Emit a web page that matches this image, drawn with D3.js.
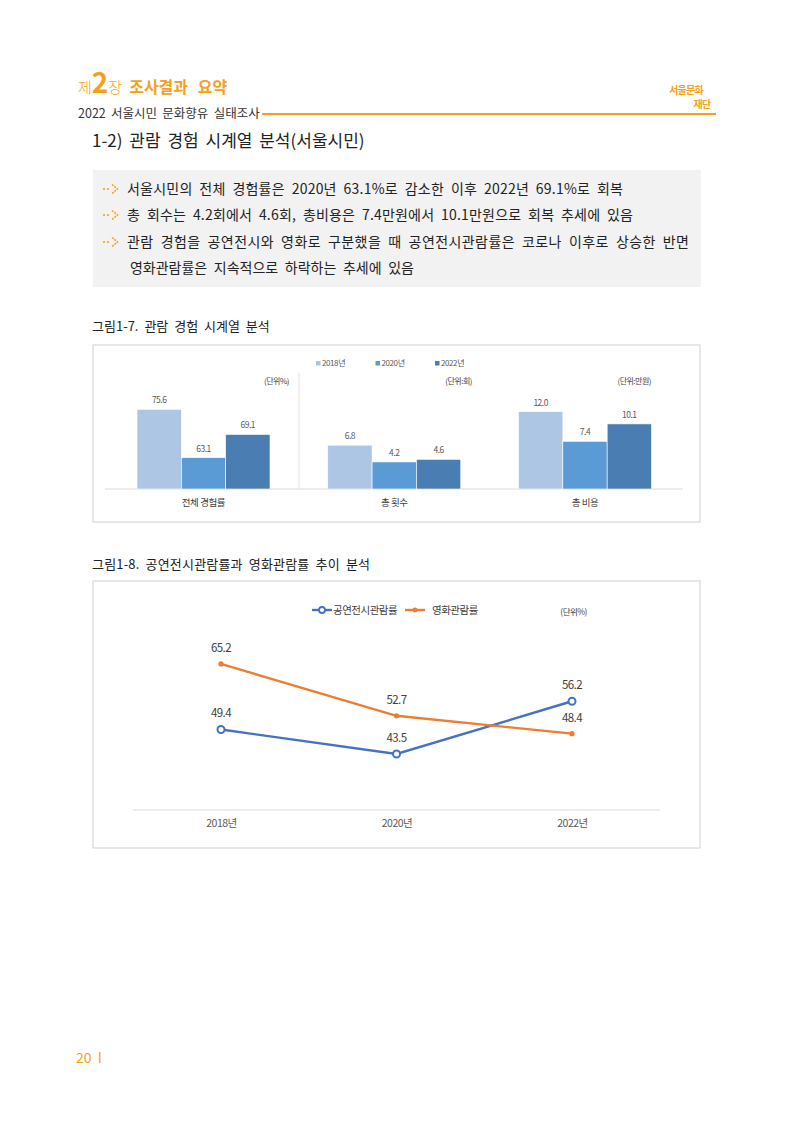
<!DOCTYPE html>
<html>
<head>
<meta charset="utf-8">
<script src="https://cdn.jsdelivr.net/npm/d3@7"></script>
<style>
  body { margin: 0; background: #fff; }
  svg text { font-family: "Noto Sans CJK KR", "Noto Sans", sans-serif; }
</style>
</head>
<body>
<script>
// chart data
var years = ["2018년", "2020년", "2022년"];
var barCategories = ["전체 경험률", "총 횟수", "총 비용"];
var barUnits = ["(단위%)", "(단위:회)", "(단위:만원)"];
var experienceRate = [75.6, 63.1, 69.1];
var totalCount = [6.8, 4.2, 4.6];
var totalCost = [12.0, 7.4, 10.1];
var seriesNames = ["공연전시관람률", "영화관람률"];
var performanceRate = [49.4, 43.5, 56.2];
var movieRate = [65.2, 52.7, 48.4];

var summary = [
  "서울시민의 전체 경험률은 2020년 63.1%로 감소한 이후 2022년 69.1%로 회복",
  "총 회수는 4.2회에서 4.6회, 총비용은 7.4만원에서 10.1만원으로 회복 추세에 있음",
  "관람 경험을 공연전시와 영화로 구분했을 때 공연전시관람률은 코로나 이후로 상승한 반면",
  "영화관람률은 지속적으로 하락하는 추세에 있음"
];

var orange = "#f5a01a";
var barColors = ["#adc6e4", "#5b9bd5", "#4a7db1"];
var fmt = d3.format(".1f");

var svg = d3.select("body").append("svg")
  .attr("width", 794)
  .attr("height", 1122);

// ---- page header
var head = svg.append("text").attr("x", 78).attr("y", 93).attr("fill", orange);
head.append("tspan").attr("font-size", 15).attr("font-weight", 300).text("제");
head.append("tspan").attr("font-size", 28).attr("font-weight", 700).text("2");
head.append("tspan").attr("font-size", 15).attr("font-weight", 300).text("장");
head.append("tspan").attr("font-size", 16).attr("font-weight", 700).attr("dx", 7)
  .attr("word-spacing", 6).text("조사결과 요약");

svg.append("text").attr("x", 78).attr("y", 118).attr("word-spacing", 2.5)
  .attr("font-size", 12.5).attr("fill", "#333").text("2022 서울시민 문화향유 실태조사");
svg.append("line").attr("x1", 262).attr("x2", 716).attr("y1", 114).attr("y2", 114)
  .attr("stroke", orange).attr("stroke-width", 2);

// logo (approximation)
svg.append("text").attr("x", 686).attr("y", 94).attr("font-size", 10).attr("font-weight", 700)
  .attr("fill", orange).attr("text-anchor", "middle").attr("letter-spacing", -0.8).text("서울문화");
svg.append("text").attr("x", 702).attr("y", 108).attr("font-size", 10).attr("font-weight", 700)
  .attr("fill", orange).attr("text-anchor", "middle").attr("letter-spacing", -0.8).text("재단");

svg.append("text").attr("x", 92).attr("y", 147).attr("word-spacing", 3)
  .attr("font-size", 17).attr("fill", "#222").text("1-2) 관람 경험 시계열 분석(서울시민)");

// ---- summary box
svg.append("rect").attr("x", 93).attr("y", 170).attr("width", 608).attr("height", 117)
  .attr("fill", "#f2f2f2");

var lineY = [194, 220, 247, 273];
var lineLen = [496, 506, 562, 284];
summary.forEach(function(s, i) {
  if (i < 3) {
    var g = svg.append("g").attr("transform", "translate(103," + (lineY[i] - 5) + ")");
    g.append("circle").attr("cx", 1).attr("cy", 0).attr("r", 1.1).attr("fill", orange);
    g.append("circle").attr("cx", 5).attr("cy", 0).attr("r", 1.1).attr("fill", orange);
    g.append("path").attr("d", "M9,-4.5 L14.5,0 L9,4.5").attr("fill", "none")
      .attr("stroke", orange).attr("stroke-width", 1.5).attr("stroke-dasharray", "2,1");
  }
  svg.append("text").attr("x", i == 3 ? 130 : 127).attr("y", lineY[i])
    .attr("font-size", 14).attr("fill", "#222").attr("word-spacing", 3.5)
    .attr("textLength", lineLen[i]).attr("lengthAdjust", "spacing").text(s);
});

// ---- figure 1-7
svg.append("text").attr("x", 92).attr("y", 331).attr("font-size", 13).attr("fill", "#222")
  .attr("word-spacing", 3).text("그림1-7. 관람 경험 시계열 분석");

svg.append("rect").attr("x", 93).attr("y", 345).attr("width", 607).attr("height", 177)
  .attr("fill", "none").attr("stroke", "#d0d0d0");

var base1 = 489;
var yRate = d3.scaleLinear().domain([55, 85]).range([base1, 373]);
var ySmall = d3.scaleLinear().domain([0, 18]).range([base1, 373]);
var xCat = d3.scalePoint().domain(barCategories).range([203.5, 585]);
var xYear = d3.scaleBand().domain(years).range([-66.5, 66.5]);

var groups = [
  { cat: barCategories[0], unit: barUnits[0], values: experienceRate, y: yRate },
  { cat: barCategories[1], unit: barUnits[1], values: totalCount, y: ySmall },
  { cat: barCategories[2], unit: barUnits[2], values: totalCost, y: ySmall }
];

// legend
var leg1 = svg.append("g");
years.forEach(function(yr, i) {
  var lx = 316 + i * 59.5;
  leg1.append("rect").attr("x", lx).attr("y", 361).attr("width", 4.5).attr("height", 4.5)
    .attr("fill", barColors[i]);
  leg1.append("text").attr("x", lx + 6).attr("y", 366).attr("font-size", 8)
    .attr("letter-spacing", -0.4).attr("fill", "#595959").text(yr);
});

svg.append("line").attr("x1", 299).attr("x2", 299).attr("y1", 373).attr("y2", base1)
  .attr("stroke", "#e0e0e0");
svg.append("line").attr("x1", 105).attr("x2", 683).attr("y1", base1).attr("y2", base1)
  .attr("stroke", "#d9d9d9");

var unitRight = [289, 472, 651];
groups.forEach(function(gr, gi) {
  var g = svg.append("g").attr("transform", "translate(" + xCat(gr.cat) + ",0)");
  g.selectAll("rect").data(gr.values).enter().append("rect")
    .attr("x", function(d, i) { return xYear(years[i]); })
    .attr("y", function(d) { return gr.y(d); })
    .attr("width", xYear.bandwidth())
    .attr("height", function(d) { return base1 - gr.y(d); })
    .attr("fill", function(d, i) { return barColors[i]; })
    .attr("stroke", "#fff").attr("stroke-width", 0.6);
  g.selectAll(".lbl").data(gr.values).enter().append("text")
    .attr("class", "lbl")
    .attr("x", function(d, i) { return xYear(years[i]) + xYear.bandwidth() / 2; })
    .attr("y", function(d) { return gr.y(d) - 6; })
    .attr("text-anchor", "middle").attr("font-size", 8.5).attr("letter-spacing", -0.5)
    .attr("fill", "#595959").text(function(d) { return fmt(d); });
  g.append("text").attr("x", 0).attr("y", 506).attr("text-anchor", "middle")
    .attr("font-size", 9.5).attr("letter-spacing", -0.4).attr("fill", "#404040").text(gr.cat);
  svg.append("text").attr("x", unitRight[gi]).attr("y", 384).attr("text-anchor", "end")
    .attr("font-size", 8).attr("letter-spacing", -0.5).attr("fill", "#404040").text(gr.unit);
});

// ---- figure 1-8
svg.append("text").attr("x", 92).attr("y", 569).attr("font-size", 13).attr("fill", "#222")
  .attr("word-spacing", 3).attr("textLength", 278).attr("lengthAdjust", "spacing")
  .text("그림1-8. 공연전시관람률과 영화관람률 추이 분석");

svg.append("rect").attr("x", 93).attr("y", 581).attr("width", 607).attr("height", 267)
  .attr("fill", "none").attr("stroke", "#d0d0d0");

var xLine = d3.scalePoint().domain(years).range([221, 572]);
var yLine = d3.scaleLinear().domain([30, 70]).range([810, 644]);

var series = [
  { name: seriesNames[0], values: performanceRate, color: "#4472c4", open: true },
  { name: seriesNames[1], values: movieRate, color: "#ed7d31", open: false }
];

svg.append("line").attr("x1", 133).attr("x2", 660).attr("y1", 810).attr("y2", 810)
  .attr("stroke", "#d9d9d9");

var xAxis = d3.axisBottom(xLine).tickSize(0).tickPadding(10);
var axG = svg.append("g").attr("transform", "translate(0,810)").call(xAxis);
axG.select(".domain").remove();
axG.selectAll("text").attr("font-size", 10.5).attr("letter-spacing", -0.5)
  .attr("fill", "#595959").attr("font-family", "Noto Sans CJK KR");

var line = d3.line()
  .x(function(d, i) { return xLine(years[i]); })
  .y(function(d) { return yLine(d); });

series.forEach(function(s) {
  svg.append("path").datum(s.values).attr("d", line)
    .attr("fill", "none").attr("stroke", s.color).attr("stroke-width", 2.4);
  svg.selectAll(null).data(s.values).enter().append("circle")
    .attr("cx", function(d, i) { return xLine(years[i]); })
    .attr("cy", function(d) { return yLine(d); })
    .attr("r", s.open ? 3.5 : 2.6)
    .attr("fill", s.open ? "#fff" : s.color)
    .attr("stroke", s.color).attr("stroke-width", s.open ? 2 : 0);
  svg.selectAll(null).data(s.values).enter().append("text")
    .attr("x", function(d, i) { return xLine(years[i]); })
    .attr("y", function(d) { return yLine(d) - 12; })
    .attr("text-anchor", "middle").attr("font-size", 11.5).attr("letter-spacing", -0.6)
    .attr("fill", "#404040").text(function(d) { return fmt(d); });
});

// legend
var legX = [312, 405];
var legText = [333, 432];
series.forEach(function(s, i) {
  svg.append("line").attr("x1", legX[i]).attr("x2", legX[i] + 20).attr("y1", 610).attr("y2", 610)
    .attr("stroke", s.color).attr("stroke-width", 2.4);
  svg.append("circle").attr("cx", legX[i] + 10).attr("cy", 610)
    .attr("r", s.open ? 3 : 2.4)
    .attr("fill", s.open ? "#fff" : s.color)
    .attr("stroke", s.color).attr("stroke-width", s.open ? 1.8 : 0);
  svg.append("text").attr("x", legText[i]).attr("y", 614).attr("font-size", 10.5)
    .attr("letter-spacing", -0.5).attr("fill", "#404040").text(s.name);
});
svg.append("text").attr("x", 587).attr("y", 615).attr("text-anchor", "end")
  .attr("font-size", 8.5).attr("letter-spacing", -0.5).attr("fill", "#404040").text("(단위%)");

// page number
svg.append("text").attr("x", 76).attr("y", 1063).attr("font-size", 14).attr("word-spacing", 3)
  .attr("fill", orange).text("20 I");
</script>
</body>
</html>
